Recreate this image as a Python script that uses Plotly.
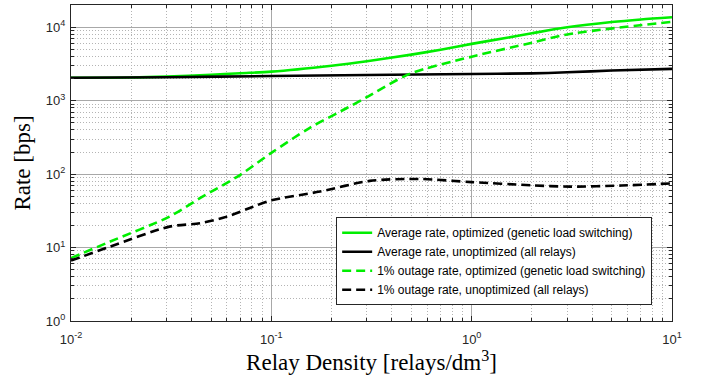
import plotly.graph_objects as go

# Relay density [relays/dm^3]
x_avg = [0.01, 0.02, 0.03, 0.05, 0.07, 0.1, 0.2, 0.3, 0.5, 0.7, 1, 1.5, 2, 3, 5, 7, 10]
avg_opt = [2060, 2070, 2130, 2260, 2370, 2490, 3000, 3450, 4250, 4950, 5950, 7200, 8300, 10000, 11800, 12800, 13700]

x_avg_un = [0.01, 0.03, 0.1, 0.3, 1, 2, 3, 5, 10]
avg_unopt = [2060, 2090, 2170, 2240, 2310, 2360, 2440, 2580, 2720]

x_out_opt = [0.01, 0.0157, 0.031, 0.044, 0.07, 0.1, 0.155, 0.237, 0.3, 0.49, 1, 2, 3, 10]
out_opt = [7.2, 12.1, 26.4, 47, 98, 195, 425, 790, 1120, 2320, 3980, 6170, 8000, 11900]

x_out_un = [0.01, 0.0157, 0.031, 0.044, 0.06, 0.081, 0.1, 0.175, 0.31, 0.55, 1, 2, 3.1, 5.6, 10]
out_unopt = [6.65, 10.3, 19.3, 21.4, 26.4, 36, 44, 58, 81, 86, 78, 70.5, 67.6, 70, 75]

x_ticks = [0.01, 0.1, 1, 10]
x_ticklabels = ["10<sup>-2</sup>", "10<sup>-1</sup>", "10<sup>0</sup>", "10<sup>1</sup>"]
y_ticks = [1, 10, 100, 1000, 10000]
y_ticklabels = ["10<sup>0</sup>", "10<sup>1</sup>", "10<sup>2</sup>", "10<sup>3</sup>", "10<sup>4</sup>"]

names = [
    "Average rate, optimized (genetic load switching)",
    "Average rate, unoptimized (all relays)",
    "1% outage rate, optimized (genetic load switching)",
    "1% outage rate, unoptimized (all relays)",
]

GREEN = "#00ee00"
BLACK = "#000000"

fig = go.Figure()
fig.add_trace(go.Scatter(x=x_avg, y=avg_opt, mode="lines", name=names[0],
                         line=dict(color=GREEN, width=2.6, shape="spline", smoothing=0.8)))
fig.add_trace(go.Scatter(x=x_avg_un, y=avg_unopt, mode="lines", name=names[1],
                         line=dict(color=BLACK, width=2.6, shape="spline", smoothing=0.8)))
fig.add_trace(go.Scatter(x=x_out_opt, y=out_opt, mode="lines", name=names[2],
                         line=dict(color=GREEN, width=2.6, dash="9px,5px", shape="spline", smoothing=0.8)))
fig.add_trace(go.Scatter(x=x_out_un, y=out_unopt, mode="lines", name=names[3],
                         line=dict(color=BLACK, width=2.6, dash="9px,5px", shape="spline", smoothing=0.8)))

tickfont = dict(family="Liberation Sans, Arial", size=13, color="#262626")
axis_common = dict(
    type="log",
    showline=True, linecolor="#262626", linewidth=1, mirror="ticks",
    ticks="inside", ticklen=5, tickcolor="#262626",
    showgrid=True, gridcolor="#a8a8a8", gridwidth=1,
    zeroline=False,
    tickfont=tickfont,
    minor=dict(dtick="D1", ticks="inside", ticklen=3, tickcolor="#262626",
               showgrid=True, gridcolor="#b4b4b4", griddash="1px,2px", gridwidth=1),
)

fig.update_layout(
    width=711, height=381,
    margin=dict(l=71, r=39, t=5, b=60),
    paper_bgcolor="white", plot_bgcolor="white",
    showlegend=True,
    legend=dict(
        x=0.967, y=0.05, xanchor="right", yanchor="bottom",
        bgcolor="white", bordercolor="#262626", borderwidth=1,
        font=dict(family="Liberation Sans, Arial", size=12, color="#000000"),
        itemwidth=30, tracegroupgap=0,
    ),
    xaxis=dict(axis_common, range=[-2, 1], tickmode="array", tickvals=x_ticks, ticktext=x_ticklabels,
               ticklabelstandoff=6,
               title=dict(text="Relay Density [relays/dm<sup>3</sup>]",
                          font=dict(family="Liberation Serif, Times New Roman", size=23, color="#000"),
                          standoff=6)),
    yaxis=dict(axis_common, range=[0, 4.304], tickmode="array", tickvals=y_ticks, ticktext=y_ticklabels,
               ticklabelstandoff=2,
               title=dict(text="Rate [bps]",
                          font=dict(family="Liberation Serif, Times New Roman", size=23, color="#000"),
                          standoff=8)),
)

fig.write_html("out.html")
